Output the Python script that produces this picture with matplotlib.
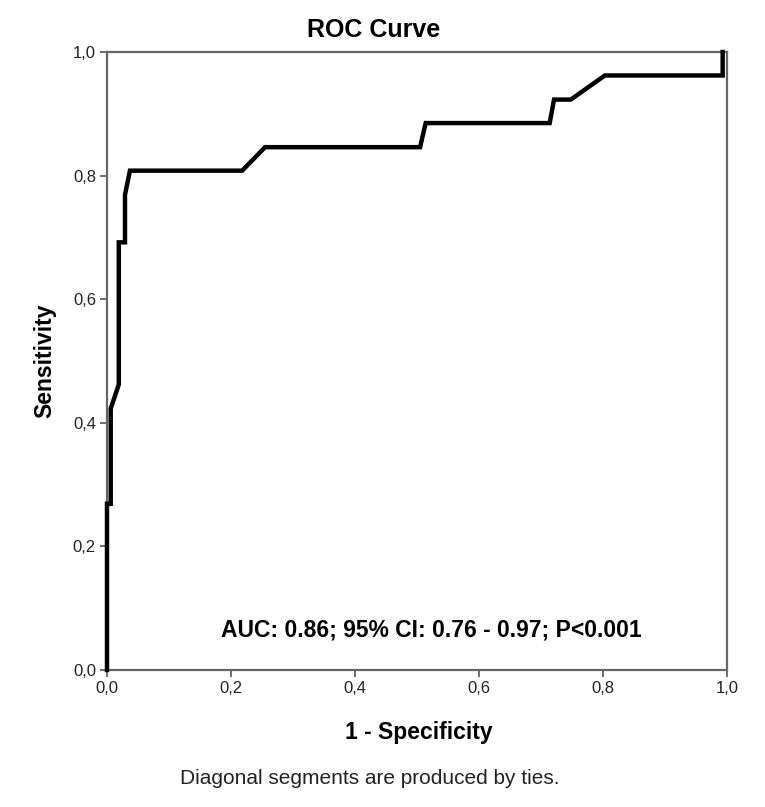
import matplotlib
matplotlib.use("Agg")
import matplotlib.pyplot as plt
from matplotlib.ticker import FuncFormatter

# ROC curve points (1 - specificity, sensitivity)
fpr = [0.0, 0.0, 0.006, 0.006, 0.019, 0.019, 0.029, 0.029, 0.037, 0.218,
       0.255, 0.505, 0.514, 0.714, 0.721, 0.748, 0.803, 0.993, 0.993]
tpr = [0.0, 0.269, 0.269, 0.423, 0.462, 0.692, 0.692, 0.769, 0.808, 0.808,
       0.846, 0.846, 0.885, 0.885, 0.923, 0.923, 0.962, 0.962, 1.0]
ticks = [0.0, 0.2, 0.4, 0.6, 0.8, 1.0]
stats_text = "AUC: 0.86; 95% CI: 0.76 - 0.97; P<0.001"

plt.rcParams['font.family'] = ['Liberation Sans', 'DejaVu Sans']

fig = plt.figure(figsize=(7.65, 8.07), dpi=100)
ax = fig.add_axes([107 / 765, 1 - 670 / 807, 620 / 765, 618 / 807])

ax.plot(fpr, tpr, color='black', lw=3.2, solid_joinstyle='miter', clip_on=False, zorder=3)

ax.set_xlim(0, 1)
ax.set_ylim(0, 1)
ax.set_xticks(ticks)
ax.set_yticks(ticks)
fmt = FuncFormatter(lambda v, p: f"{v:.1f}".replace('.', ','))
ax.xaxis.set_major_formatter(fmt)
ax.yaxis.set_major_formatter(fmt)
ax.tick_params(direction='out', length=5, width=1.2, color='#555555',
               labelsize=12, labelcolor='#222222', pad=3)

for s in ax.spines.values():
    s.set_color('#666666')
    s.set_linewidth(1.6)

# axis titles placed by pixel position to match the reference
fig.text(419 / 765, 1 - 733 / 807, '1 - Specificity', ha='center', va='center',
         fontsize=16.5, fontweight='bold')
fig.text(45 / 765, 1 - 361 / 807, 'Sensitivity', ha='center', va='center',
         rotation=90, fontsize=16.5, fontweight='bold')

fig.text(374 / 765, 1 - 30 / 807, 'ROC Curve', ha='center', va='center',
         fontsize=18, fontweight='bold')
fig.text(431 / 765, 1 - 630 / 807, stats_text, ha='center', va='center',
         fontsize=16.5, fontweight='bold')
fig.text(370 / 765, 1 - 778 / 807, 'Diagonal segments are produced by ties.',
         ha='center', va='center', fontsize=15, color='#222222')

fig.savefig('out.png', dpi=100, facecolor='white')
